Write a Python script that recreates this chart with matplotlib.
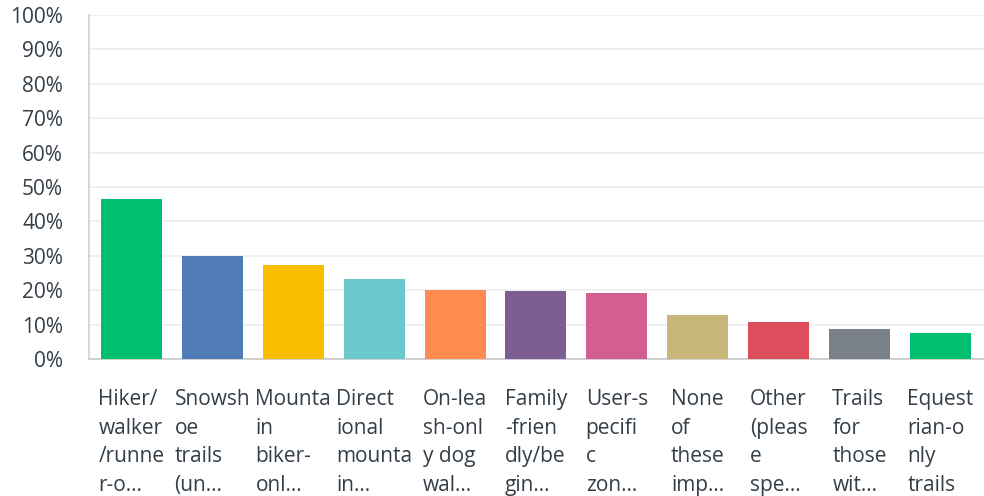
import matplotlib
matplotlib.use("Agg")
import matplotlib.pyplot as plt
import matplotlib.transforms as mtransforms

categories = [
    "Hiker/\nwalker\n/runne\nr-o...",
    "Snowsh\noe\ntrails\n(un...",
    "Mounta\nin\nbiker-\nonl...",
    "Direct\nional\nmounta\nin...",
    "On-lea\nsh-onl\ny dog\nwal...",
    "Family\n-frien\ndly/be\ngin...",
    "User-s\npecifi\nc\nzon...",
    "None\nof\nthese\nimp...",
    "Other\n(pleas\ne\nspe...",
    "Trails\nfor\nthose\nwit...",
    "Equest\nrian-o\nnly\ntrails",
]
values = [46.5, 29.8, 27.2, 23.4, 20.2, 19.7, 19.1, 12.7, 10.7, 8.7, 7.5]
colors = ["#00bf6f", "#507cb6", "#f9be00", "#6bc8cd", "#ff8b4f",
          "#7d5e90", "#d25f90", "#c9b77a", "#dd4e5c", "#7a8087", "#00bf6f"]
yticks = [0, 10, 20, 30, 40, 50, 60, 70, 80, 90, 100]
ytick_labels = [f"{t}%" for t in yticks]

plt.rcParams['font.family'] = ['Open Sans', 'DejaVu Sans']
W, H = 984, 496
fig = plt.figure(figsize=(W/100, H/100), dpi=100)
ax = fig.add_axes([89/W, 1-359/H, (984-89)/W, (359-15)/H])

x = list(range(len(values)))
bw = 0.754
ax.bar(x, values, width=bw, color=colors, zorder=3)
ax.set_xlim(-0.525, len(values) - 1 + 0.538)
ax.set_ylim(0, 100)
ax.set_yticks(yticks)
ax.set_yticklabels(ytick_labels, fontsize=15, color="#333e48")
ax.tick_params(axis='y', length=0, pad=18.7)
ax.set_xticks([])
ax.yaxis.grid(True, color="#ededed", linewidth=1.2, zorder=0)
for s in ["top", "right"]:
    ax.spines[s].set_visible(False)
ax.spines["left"].set_color("#d0d0d0")
ax.spines["bottom"].set_color("#d0d0d0")
ax.spines["left"].set_linewidth(1.2)
ax.spines["bottom"].set_linewidth(1.5)

trans = mtransforms.blended_transform_factory(ax.transData, ax.transAxes)
for xi, lab in zip(x, categories):
    ax.text(xi, -0.087, lab, transform=trans, ha='center', va='top',
            multialignment='left', fontsize=15, color="#333e48", linespacing=1.48)

fig.savefig("out.png", dpi=100)
